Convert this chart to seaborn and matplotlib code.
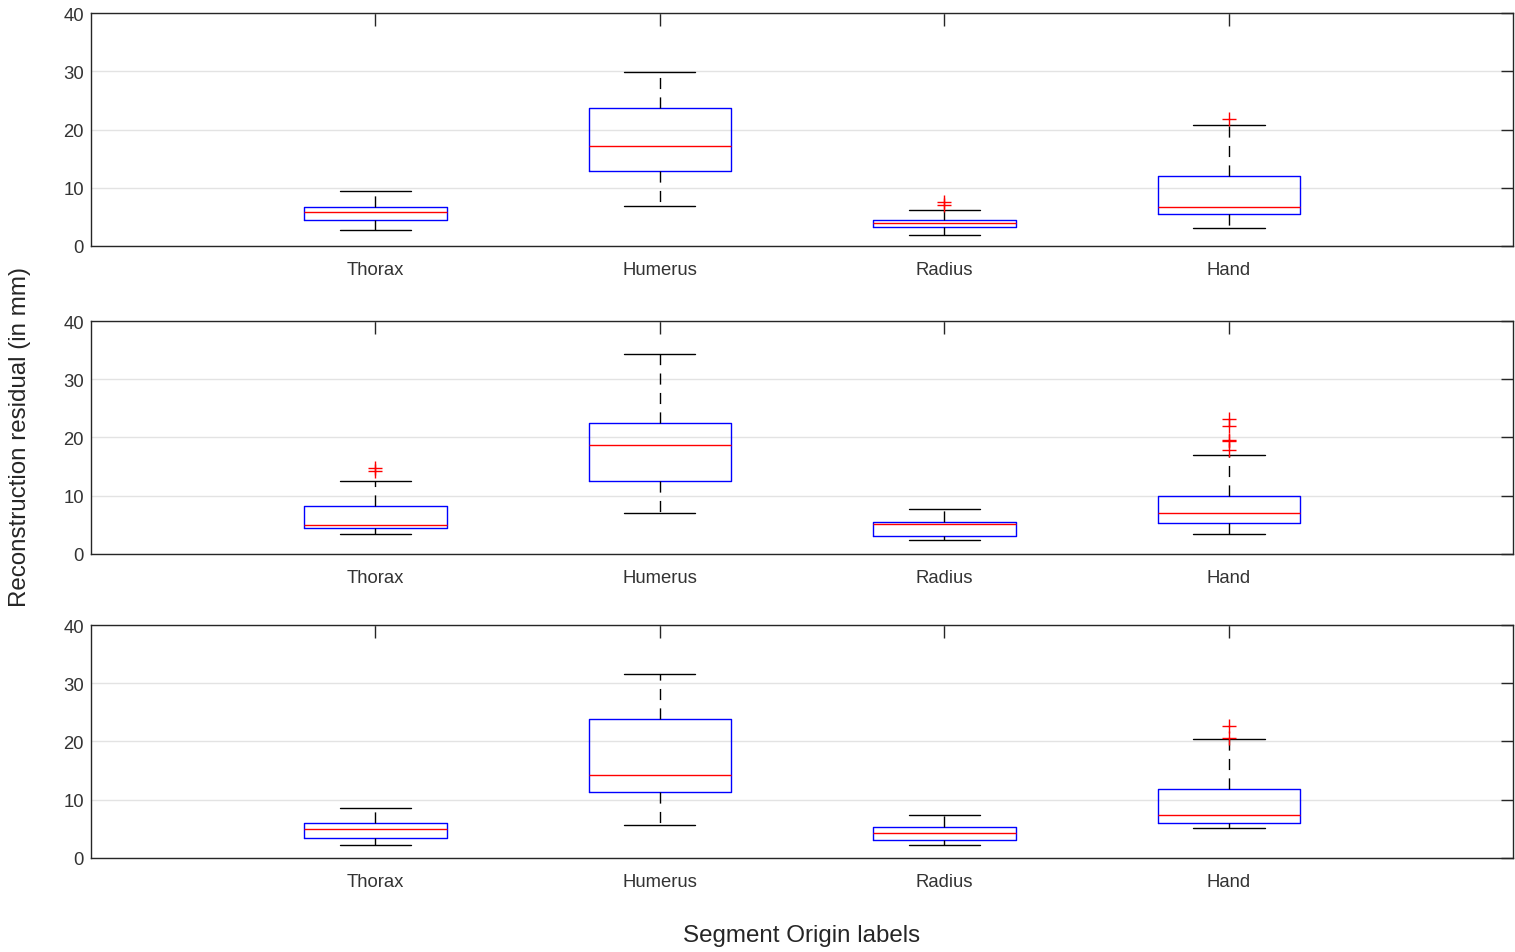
import numpy as np
import pandas as pd
import matplotlib
matplotlib.use("Agg")
import matplotlib.pyplot as plt
import seaborn as sns

# segments along the x axis
segments = ["Thorax", "Humerus", "Radius", "Hand"]

# five-number summaries, one row per panel (in mm)
lower_whisker = [[2.8, 6.9, 1.9, 3.1],
                 [3.3, 7.0, 2.4, 3.3],
                 [2.1, 5.7, 2.1, 5.1]]
q1 = [[4.5, 12.9, 3.3, 5.5],
      [4.4, 12.5, 3.1, 5.3],
      [3.4, 11.3, 3.1, 5.9]]
median = [[5.8, 17.2, 4.0, 6.6],
          [5.0, 18.7, 5.1, 7.0],
          [5.0, 14.2, 4.3, 7.3]]
q3 = [[6.7, 23.7, 4.5, 12.0],
      [8.2, 22.5, 5.5, 10.0],
      [6.0, 23.9, 5.3, 11.8]]
upper_whisker = [[9.5, 29.9, 6.1, 20.7],
                 [12.5, 34.3, 7.6, 17.0],
                 [8.6, 31.6, 7.4, 20.4]]

# outliers per panel: (segment, value)
outliers = [
    [("Radius", 7.0), ("Radius", 7.5), ("Hand", 21.8)],
    [("Thorax", 14.3), ("Thorax", 14.8),
     ("Hand", 17.9), ("Hand", 19.3), ("Hand", 19.6), ("Hand", 21.9), ("Hand", 23.2)],
    [("Hand", 20.5), ("Hand", 22.7)],
]

sns.set_style("white")
plt.rcParams["font.family"] = ["Liberation Sans", "DejaVu Sans"]
text_col = "#262626"

fig = plt.figure(figsize=(15.15, 9.53), dpi=100)
# axes rectangles in figure fractions [left, bottom, width, height]
rects = [[0.060, 0.741, 0.939, 0.244],
         [0.060, 0.418, 0.939, 0.244],
         [0.060, 0.099, 0.939, 0.244]]

for i, rect in enumerate(rects):
    ax = fig.add_axes(rect)
    rows = []
    for j, seg in enumerate(segments):
        for v in (lower_whisker[i][j], q1[i][j], median[i][j], q3[i][j], upper_whisker[i][j]):
            rows.append({"segment": seg, "value": v})
    df = pd.DataFrame(rows)

    sns.boxplot(data=df, x="segment", y="value", order=segments, whis=(0, 100),
                width=0.5, fill=False, linewidth=1.0, showfliers=False,
                boxprops=dict(color="blue"),
                medianprops=dict(color="red"),
                whiskerprops=dict(color="black", linestyle=(0, (8, 6))),
                capprops=dict(color="black"),
                ax=ax)

    fl = pd.DataFrame(outliers[i], columns=["segment", "value"])
    pos = [segments.index(s) for s in fl["segment"]]
    ax.plot(pos, fl["value"], linestyle="none", marker="+", color="red",
            markersize=10, markeredgewidth=1.0, zorder=5)

    ax.set_xlim(-1, 4)
    ax.set_ylim(0, 40)
    ax.set_yticks([0, 10, 20, 30, 40])
    ax.set_xlabel("")
    ax.set_ylabel("")
    ax.yaxis.grid(True, color="#e3e3e3", linewidth=1.0)
    ax.set_axisbelow(True)
    for sp in ax.spines.values():
        sp.set_visible(True)
        sp.set_color(text_col)
        sp.set_linewidth(1.0)
    ax.tick_params(axis="both", direction="in", length=9, width=1.0,
                   color=text_col, labelcolor="#333333", labelsize=13.3,
                   top=True, right=True)
    ax.tick_params(axis="x", pad=11)
    ax.tick_params(axis="y", pad=5)

fig.text(20 / 1515, 1 - 437 / 953, "Reconstruction residual (in mm)", rotation=90,
         ha="center", va="center", fontsize=17.4, color=text_col)
fig.text(802 / 1515, 1 - 936 / 953, "Segment Origin labels",
         ha="center", va="center", fontsize=17.4, color=text_col)

fig.savefig("out.png", dpi=100)
